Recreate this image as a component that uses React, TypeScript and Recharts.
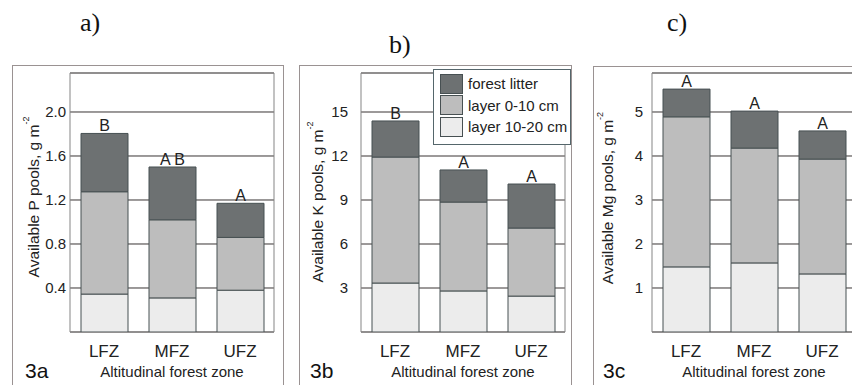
import React from "react";
import { BarChart, Bar, XAxis, YAxis, CartesianGrid, ReferenceArea, LabelList } from "recharts";

const zones = ["LFZ", "MFZ", "UFZ"];

// available P pools, g m-2
const pLitter = [0.53, 0.48, 0.31];
const pLayer010 = [0.93, 0.71, 0.48];
const pLayer1020 = [0.345, 0.31, 0.38];
const pLetters = ["B", "A B", "A"];
const pTicks = [0.4, 0.8, 1.2, 1.6, 2.0];

// available K pools
const kLitter = [2.46, 2.19, 3.0];
const kLayer010 = [8.59, 6.06, 4.64];
const kLayer1020 = [3.34, 2.8, 2.45];
const kLetters = ["B", "A", "A"];
const kTicks = [3, 6, 9, 12, 15];

// available Mg pools
const mgLitter = [0.63, 0.84, 0.64];
const mgLayer010 = [3.41, 2.61, 2.61];
const mgLayer1020 = [1.48, 1.57, 1.32];
const mgLetters = ["A", "A", "A"];
const mgTicks = [1, 2, 3, 4, 5];

const seriesNames = ["forest litter", "layer 0-10 cm", "layer 10-20 cm"];
const colors = ["#6d7172", "#bdbdbd", "#ececec"];

const FONT = "'Liberation Sans', Arial, sans-serif";
const BAR_STROKE = "#475052";
const GRID = "#3a3535";

function buildRows(l1020: number[], l010: number[], litter: number[], letters: string[]) {
  return zones.map((z, i) => ({
    zone: z,
    l1020: l1020[i],
    l010: l010[i],
    litter: litter[i],
    letter: letters[i],
  }));
}

function YTitle(props: any) {
  const { viewBox, element, cx, cy } = props;
  const x = viewBox.x + cx;
  const y = cy;
  return (
    <text
      x={x}
      y={y}
      transform={`rotate(-90, ${x}, ${y})`}
      textAnchor="middle"
      dominantBaseline="central"
      fontSize={15.5}
      fontFamily={FONT}
      fill="#222"
    >
      {`Available ${element} pools, g m`}
      <tspan dy={-7} fontSize={9}>-2</tspan>
    </text>
  );
}

function Letter(props: any) {
  const { x, y, width, value } = props;
  return (
    <text x={x + width / 2} y={y - 2} textAnchor="middle" fontSize={16} fontFamily={FONT} fill="#222">
      {value}
    </text>
  );
}

function LegendBox() {
  return (
    <div
      style={{
        position: "absolute",
        left: 433,
        top: 69,
        width: 136,
        height: 71,
        border: "1px solid #55666b",
        background: "#fff",
        fontFamily: FONT,
        fontSize: 15,
        color: "#222",
        paddingTop: 3,
      }}
    >
      {seriesNames.map((n, i) => (
        <div key={n} style={{ display: "flex", alignItems: "center", height: 21.5, marginLeft: 6 }}>
          <div style={{ width: 21, height: 18, background: colors[i], border: `1px solid ${BAR_STROKE}`, marginRight: 5 }} />
          <span>{n}</span>
        </div>
      ))}
    </div>
  );
}

interface PanelProps {
  left: number;
  marginLeft: number;
  rows: any[];
  top: number;
  ticks: number[];
  digits: number;
  element: string;
  titleX: number;
  titleY: number;
  tickGap: number;
}

function Panel(p: PanelProps) {
  return (
    <div style={{ position: "absolute", left: p.left, top: 0 }}>
      <BarChart
        width={290}
        height={385}
        data={p.rows}
        margin={{ top: 73, right: 290 - 204 - 60 - p.marginLeft, bottom: 0, left: p.marginLeft }}
        barSize={47}
      >
        <CartesianGrid horizontal vertical={false} stroke={GRID} />
        <ReferenceArea y1={0} y2={p.top} fill="none" stroke="#858585" strokeOpacity={1} />
        <XAxis
          dataKey="zone"
          height={53}
          axisLine={false}
          tickLine={false}
          tickSize={0}
          tickMargin={13}
          tick={{ fontSize: 17, fill: "#222", fontFamily: FONT }}
          label={{ value: "Altitudinal forest zone", position: "insideBottom", offset: 8, fontSize: 15, fill: "#222", fontFamily: FONT }}
        />
        <YAxis
          width={60}
          domain={[0, p.top]}
          ticks={p.ticks}
          allowDataOverflow
          axisLine={false}
          tickLine={false}
          tickSize={0}
          tickMargin={p.tickGap}
          tickFormatter={(v: number) => v.toFixed(p.digits)}
          tick={{ fontSize: 15, fill: "#222", fontFamily: FONT }}
          label={<YTitle element={p.element} cx={p.titleX - p.marginLeft} cy={p.titleY} />}
        />
        <Bar dataKey="l1020" stackId="s" fill={colors[2]} stroke={BAR_STROKE} isAnimationActive={false} />
        <Bar dataKey="l010" stackId="s" fill={colors[1]} stroke={BAR_STROKE} isAnimationActive={false} />
        <Bar dataKey="litter" stackId="s" fill={colors[0]} stroke={BAR_STROKE} isAnimationActive={false}>
          <LabelList dataKey="letter" content={<Letter />} />
        </Bar>
      </BarChart>
    </div>
  );
}

const frame = (left: number, top: number, width: number) => (
  <div
    style={{
      position: "absolute",
      left,
      top,
      width,
      height: 400,
      border: "1px solid #9a9292",
      boxSizing: "border-box",
    }}
  />
);

export default function App() {
  return (
    <div style={{ position: "absolute", left: 0, top: 0, width: 852, height: 385, overflow: "hidden", background: "#fff" }}>
      {frame(12, 65, 272)}
      {frame(299, 65, 273)}
      {frame(593, 66, 300)}
      <Panel left={0} marginLeft={10} rows={buildRows(pLayer1020, pLayer010, pLitter, pLetters)} top={2.3545} ticks={pTicks} digits={1} element="P" titleX={33} titleY={197} tickGap={4} />
      <Panel left={290} marginLeft={11} rows={buildRows(kLayer1020, kLayer010, kLitter, kLetters)} top={17.66} ticks={kTicks} digits={0} element="K" titleX={27} titleY={202} tickGap={13} />
      <Panel left={580} marginLeft={12} rows={buildRows(mgLayer1020, mgLayer010, mgLitter, mgLetters)} top={5.886} ticks={mgTicks} digits={0} element="Mg" titleX={27} titleY={198} tickGap={9} />
      <LegendBox />
      <svg width={852} height={385} style={{ position: "absolute", left: 0, top: 0, pointerEvents: "none" }}>
        <g fontFamily="'Liberation Serif', 'Times New Roman', serif" fontSize={26} fill="#111">
          <text x={80} y={31}>a)</text>
          <text x={389} y={53}>b)</text>
          <text x={667} y={31}>c)</text>
        </g>
        <g fontFamily={FONT} fontSize={21} fill="#111">
          <text x={25} y={378}>3a</text>
          <text x={310} y={378}>3b</text>
          <text x={603} y={378}>3c</text>
        </g>
      </svg>
    </div>
  );
}
